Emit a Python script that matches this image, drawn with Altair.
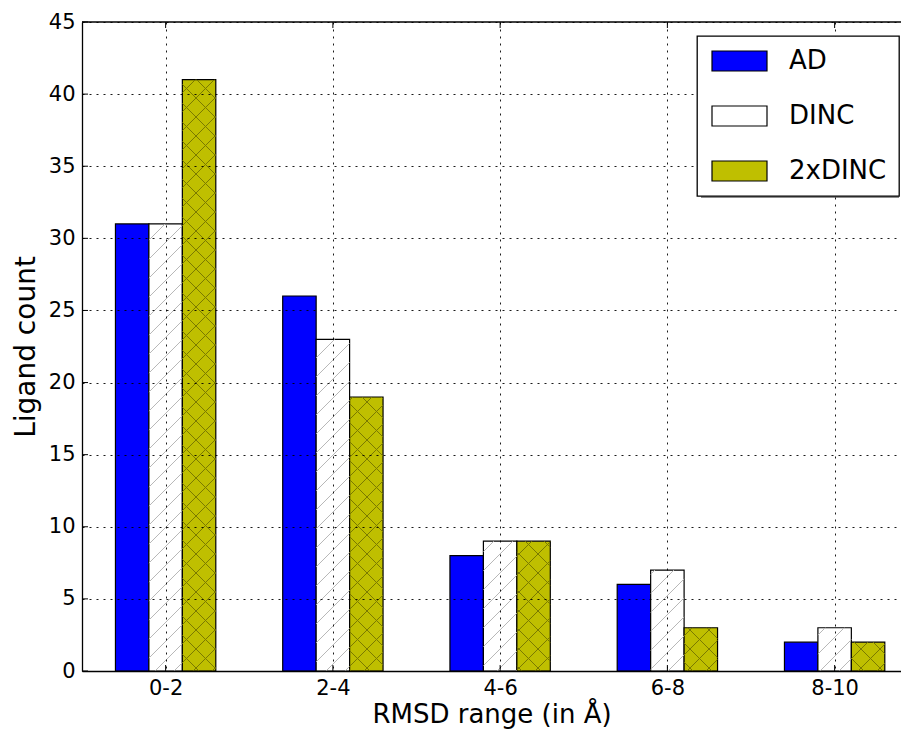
import json
import altair as alt
import pandas as pd

categories = ["0-2", "2-4", "4-6", "6-8", "8-10"]
series = ["AD", "DINC", "2xDINC"]
ad_counts = [31, 26, 8, 6, 2]
dinc_counts = [31, 23, 9, 7, 3]
dinc2_counts = [41, 19, 9, 3, 2]
y_ticks = [0, 5, 10, 15, 20, 25, 30, 35, 40, 45]

colors = ["#0000ff", "#ffffff", "#bfbf00"]
hatch_kind = {"AD": None, "DINC": "/", "2xDINC": "x"}
hatch_color = {"DINC": "#b8b8b8", "2xDINC": "#7a7a00"}

FONT = "DejaVu Sans"
W, H = 819, 649
XMIN = -0.5
XS = 167.25
XMAX = XMIN + W / XS
YMAX = 45
BAR_W = 0.2
YS = H / YMAX
HATCH_STEP = 19

# legend geometry (plot-area pixels)
LEG_X, LEG_Y, LEG_W, LEG_H = 615, 14, 198, 158
SHADOW = 4

values = {"AD": ad_counts, "DINC": dinc_counts, "2xDINC": dinc2_counts}
rows = []
for j, s in enumerate(series):
    for i, c in enumerate(categories):
        x0 = i - 1.5 * BAR_W + j * BAR_W
        rows.append({"series": s, "cat": c, "x0": x0, "x1": x0 + BAR_W,
                     "count": values[s][i]})
bars = pd.DataFrame(rows)

# hatch segments, computed in pixel space then mapped back to data space
hrows = []
for r in rows:
    kind = hatch_kind[r["series"]]
    if kind is None:
        continue
    px0 = (r["x0"] - XMIN) * XS
    px1 = (r["x1"] - XMIN) * XS
    pyt = H - r["count"] * YS
    pyb = H
    dirs = ["ne"] if kind == "/" else ["ne", "nw"]
    for d in dirs:
        if d == "ne":
            cmin, cmax = px0 + pyt, px1 + pyb
        else:
            cmin, cmax = px0 - pyb, px1 - pyt
        k = int(cmin // HATCH_STEP)
        while k * HATCH_STEP <= cmax:
            cc = k * HATCH_STEP
            k += 1
            if d == "ne":
                xa = max(px0, cc - pyb)
                xb = min(px1, cc - pyt)
                ya, yb = cc - xa, cc - xb
            else:
                xa = max(px0, cc + pyt)
                xb = min(px1, cc + pyb)
                ya, yb = xa - cc, xb - cc
            if xb - xa < 0.5:
                continue
            hrows.append({"series": r["series"],
                          "hx": XMIN + xa / XS, "hx2": XMIN + xb / XS,
                          "hy": (H - ya) / YS, "hy2": (H - yb) / YS})
hatch = pd.DataFrame(hrows)

xscale = alt.Scale(domain=[XMIN, XMAX], nice=False, zero=False)
yscale = alt.Scale(domain=[0, YMAX], nice=False)
label_expr = json.dumps(categories) + "[datum.value]"

# legend symbol: 55x20 rectangle, drawn from the symbol's left edge
rect_path = "M-1,-1H4.5V1H-1Z"

bar_layer = alt.Chart(bars).mark_bar(stroke="black", strokeWidth=1.2).encode(
    x=alt.X("x0:Q", scale=xscale,
            axis=alt.Axis(values=list(range(len(categories))), labelExpr=label_expr,
                          title="RMSD range (in Å)", grid=True, ticks=False,
                          labelPadding=6, titlePadding=3, titleFontSize=26, zindex=1)),
    x2="x1:Q",
    y=alt.Y("count:Q", scale=yscale,
            axis=alt.Axis(values=y_ticks, title="Ligand count", grid=True, ticks=False,
                          labelPadding=7, titlePadding=8, titleFontSize=28, zindex=1)),
    y2=alt.datum(0),
    fill=alt.Fill("series:N", scale=alt.Scale(domain=series, range=colors),
                  sort=series,
                  legend=alt.Legend(title=None, orient="none", legendX=LEG_X, legendY=LEG_Y,
                                    symbolType=rect_path, symbolSize=400,
                                    symbolStrokeColor="black", symbolStrokeWidth=1.2,
                                    labelFontSize=26, labelFont=FONT, labelOffset=54,
                                    rowPadding=29, padding=12, fillColor="white",
                                    strokeColor="black", zindex=2)),
)

hatch_layer = alt.Chart(hatch).mark_rule(strokeWidth=1).encode(
    x=alt.X("hx:Q", scale=xscale),
    x2="hx2:Q",
    y=alt.Y("hy:Q", scale=yscale),
    y2="hy2:Q",
    color=alt.Color("series:N", scale=alt.Scale(domain=list(hatch_color.keys()),
                                                 range=list(hatch_color.values())),
                    legend=None),
)

shadow = alt.Chart(pd.DataFrame({"a": [0]})).mark_rect(fill="#8c8c8c").encode(
    x=alt.value(LEG_X + SHADOW), x2=alt.value(LEG_X + LEG_W + SHADOW),
    y=alt.value(LEG_Y + SHADOW), y2=alt.value(LEG_Y + LEG_H + SHADOW))

top_frame = alt.Chart(pd.DataFrame({"a": [0]})).mark_rule(color="black", strokeWidth=1.3).encode(
    x=alt.value(0), x2=alt.value(W), y=alt.value(0))

tick_len = 6
ydf = pd.DataFrame({"t": y_ticks})
xdf = pd.DataFrame({"t": list(range(len(categories)))})
tick_l = alt.Chart(ydf).mark_rule(color="black", strokeWidth=1).encode(
    y=alt.Y("t:Q", scale=yscale), x=alt.value(0), x2=alt.value(tick_len))
tick_b = alt.Chart(xdf).mark_rule(color="black", strokeWidth=1).encode(
    x=alt.X("t:Q", scale=xscale), y=alt.value(H - tick_len), y2=alt.value(H))
tick_t = alt.Chart(xdf).mark_rule(color="black", strokeWidth=1).encode(
    x=alt.X("t:Q", scale=xscale), y=alt.value(0), y2=alt.value(tick_len))

chart = alt.layer(shadow, bar_layer, hatch_layer, top_frame, tick_l, tick_b, tick_t).resolve_scale(
    color="independent", fill="independent"
).properties(
    width=W, height=H,
    autosize=alt.AutoSizeParams(type="none"),
    padding={"left": 74, "top": 14, "right": 0, "bottom": 58},
).configure_view(
    stroke=None
).configure_axis(
    labelFont=FONT, titleFont=FONT, labelFontSize=21,
    labelColor="black", titleColor="black", titleFontWeight="normal",
    gridColor="black", gridOpacity=1, gridWidth=0.9, gridDash=[2, 5],
    domain=True, domainColor="black", domainWidth=1.3,
).configure_legend(
    strokeWidth=1.3, cornerRadius=0,
)

chart.save("out.html", embed_options={"renderer": "svg", "actions": False})
